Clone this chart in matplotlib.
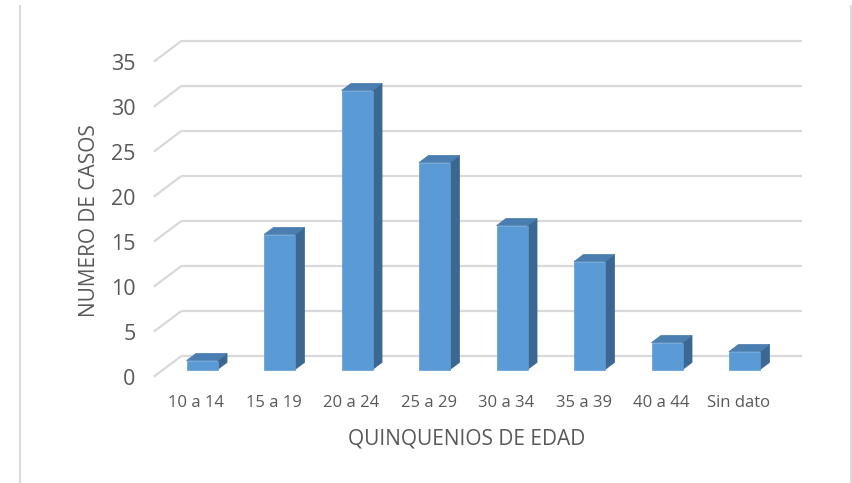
import numpy as np
import matplotlib
matplotlib.use('Agg')
import matplotlib.pyplot as plt
from matplotlib.patches import Polygon
from matplotlib.lines import Line2D
import matplotlib.transforms as mtransforms

# Casos por quinquenio de edad
categorias = ['10 a 14', '15 a 19', '20 a 24', '25 a 29', '30 a 34', '35 a 39', '40 a 44', 'Sin dato']
casos = [1, 15, 31, 23, 16, 12, 3, 2]
y_ticks = [0, 5, 10, 15, 20, 25, 30, 35]

plt.rcParams['font.family'] = ['Open Sans', 'DejaVu Sans']
gris_texto = '#595959'
gris_grid = '#d9d9d9'
azul_frente = '#5b9bd5'
azul_lado = '#3b6791'
azul_tope = '#4a7db0'

W, H = 853, 483
fig = plt.figure(figsize=(W / 100, H / 100), dpi=100)
ax = fig.add_axes([153.75 / W, 106.3 / H, 620 / W, 315 / H])
ax.set_xlim(-0.5, len(categorias) - 0.5)
ax.set_ylim(0, 35)

# desplazamiento de profundidad (efecto 3D) en unidades de datos
DX = 28 / 77.5
DY = 21 / 9
f0, f1 = 0.34, 0.68   # profundidad de la cara frontal y trasera de las barras
ancho = 0.4

x = np.arange(len(categorias))
x_ini, x_fin = -0.5, len(categorias) - 0.5

# lineas de division: pared del fondo y pared lateral izquierda
for v in y_ticks:
    ax.plot([x_ini + DX, x_fin + DX], [v + DY, v + DY], color=gris_grid, lw=1.6,
            clip_on=False, zorder=1, solid_capstyle='butt')
    ax.plot([x_ini, x_ini + DX], [v, v + DY], color=gris_grid, lw=1.6,
            clip_on=False, zorder=1, solid_capstyle='butt')

# barras 3D
for xi, v in zip(x, casos):
    l0 = xi - ancho / 2 + f0 * DX
    r0 = xi + ancho / 2 + f0 * DX
    b0 = f0 * DY
    l1 = xi - ancho / 2 + f1 * DX
    r1 = xi + ancho / 2 + f1 * DX
    b1 = f1 * DY
    lado = Polygon([(r0, b0), (r1, b1), (r1, v + b1), (r0, v + b0)], closed=True,
                   facecolor=azul_lado, edgecolor=azul_lado, lw=0.5, clip_on=False, zorder=3)
    tope = Polygon([(l0, v + b0), (r0, v + b0), (r1, v + b1), (l1, v + b1)], closed=True,
                   facecolor=azul_tope, edgecolor=azul_tope, lw=0.5, clip_on=False, zorder=3)
    frente = Polygon([(l0, b0), (r0, b0), (r0, v + b0), (l0, v + b0)], closed=True,
                     facecolor=azul_frente, edgecolor=azul_frente, lw=0.5, clip_on=False, zorder=4)
    ax.add_patch(lado)
    ax.add_patch(tope)
    ax.add_patch(frente)

for s in ax.spines.values():
    s.set_visible(False)
ax.set_facecolor('none')

ax.set_xticks(x)
ax.set_xticklabels(categorias)
ax.set_yticks(y_ticks)
ax.tick_params(axis='x', length=0, pad=13, labelsize=12, labelcolor=gris_texto)
ax.tick_params(axis='y', length=0, pad=13, labelsize=15.5, labelcolor=gris_texto)

# etiquetas del eje x algo corridas hacia la derecha
desplaza = mtransforms.ScaledTranslation(4 / 100, 0, fig.dpi_scale_trans)
for lab in ax.get_xticklabels():
    lab.set_transform(lab.get_transform() + desplaza)

ax.set_xlabel('QUINQUENIOS DE EDAD', fontsize=15, color=gris_texto)
ax.xaxis.label.set_va('center')
ax.xaxis.set_label_coords((467 - 153.75) / 620, -(439 - 376.7) / 315)
ax.set_ylabel('NUMERO DE CASOS', fontsize=15, color=gris_texto)
ax.yaxis.label.set_va('center')
ax.yaxis.set_label_coords((90 - 153.75) / 620, (376.7 - 221) / 315)

# bordes del area del grafico
for xb in (20.5, 851.5):
    fig.add_artist(Line2D([xb / W, xb / W], [0, (H - 6) / H], color=gris_grid, lw=1.5))

fig.savefig('out.png', dpi=100)
